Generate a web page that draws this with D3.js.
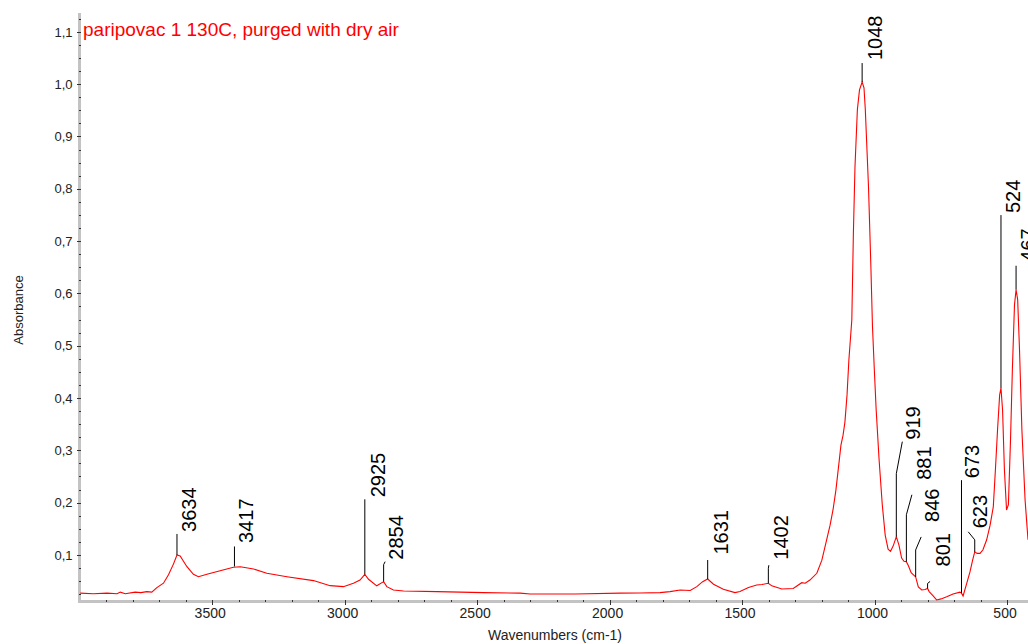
<!DOCTYPE html>
<html>
<head>
<meta charset="utf-8">
<script src="https://cdn.jsdelivr.net/npm/d3@7"></script>
<style>
  body { margin: 0; background: #fff; }
  svg { display: block; font-family: "Liberation Sans", Arial, sans-serif; }
</style>
</head>
<body>
<svg id="mainsvg" width="1028" height="644"></svg>
<script>
// spectrum (wavenumber cm-1 / absorbance)
const wavenumbers = [3999,3950,3898,3860,3848,3829,3792,3770,3748,3729,3710,3685,3666,3647,3634,3622,3597,3572,3553,3521,
  3471,3421,3395,3345,3295,3219,3119,3056,3006,2968,2943,2925,2911,2880,2854,2842,2817,2779,2653,2477,
  2339,2301,2131,1962,1887,1811,1773,1735,1697,1672,1650,1631,1609,1572,1528,1509,1477,1446,1426,1402,
  1389,1351,1308,1276,1263,1245,1219,1200,1182,1169,1158,1147,1135,1128,1120,1113,1105,1098,1087,1081,
  1075,1066,1058,1048,1041,1036,1024,1015,1009,1002,995,984,972,961,950,941,931,919,909,899,
  890,881,873,863,846,836,823,811,801,795,780,767,750,729,705,679,673,667,653,641,
  631,623,614,603,592,578,565,553,545,537,529,524,518,511,503,496,488,481,473,467,
  461,454,445,433,422]
const absorbance = [0.027,0.026,0.027,0.026,0.029,0.026,0.029,0.028,0.030,0.029,0.0375,0.046,0.062,0.083,0.100,0.098,0.078,0.063,0.0585,0.063,
  0.070,0.0765,0.0776,0.0732,0.065,0.0585,0.051,0.0413,0.0394,0.046,0.052,0.063,0.0535,0.041,0.049,0.0394,0.033,0.031,0.030,0.028,
  0.027,0.0254,0.0255,0.027,0.0273,0.028,0.030,0.033,0.032,0.0394,0.049,0.054,0.044,0.0344,0.028,0.030,0.038,0.0426,0.0436,0.046,
  0.041,0.035,0.036,0.047,0.046,0.052,0.065,0.090,0.129,0.157,0.186,0.224,0.278,0.310,0.329,0.354,0.406,0.473,0.549,0.716,
  0.842,0.951,0.989,1.004,0.993,0.951,0.804,0.651,0.537,0.454,0.377,0.282,0.196,0.138,0.111,0.107,0.117,0.135,0.119,0.094,
  0.088,0.087,0.079,0.066,0.058,0.039,0.033,0.034,0.036,0.030,0.0216,0.014,0.016,0.020,0.0254,0.029,0.027,0.0216,0.046,0.0675,
  0.090,0.106,0.103,0.103,0.110,0.129,0.157,0.192,0.263,0.339,0.406,0.419,0.377,0.263,0.186,0.196,0.320,0.454,0.578,0.607,
  0.588,0.492,0.339,0.205,0.129]

// labelled peaks
const peakWn = [3634,3417,2925,2854,1631,1402,1048,919,881,846,801,673,623,524,467]
const peakAbs = [0.100,0.078,0.063,0.049,0.054,0.046,1.004,0.135,0.087,0.058,0.036,0.027,0.106,0.419,0.607]

const xTicks = [3500,3000,2500,2000,1500,1000,500]
const yTicks = [0.1,0.2,0.3,0.4,0.5,0.6,0.7,0.8,0.9,1.0,1.1]

const title = 'paripovac 1 130C, purged with dry air'
const xTitle = 'Wavenumbers (cm-1)'
const yTitle = 'Absorbance'

// leader line / label placement for each peak, pixels relative to the peak point
// rise: vertical part, kx,ky: end of the slanted part, tx,ty: label anchor
const labelLayout = [
  {rise:-21,kx:0,ky:-21,tx:19,ty:-23},
  {rise:-20,kx:0,ky:-20,tx:18.5,ty:-23.5},
  {rise:-75,kx:0,ky:-75,tx:20.5,ty:-77},
  {rise:-17,kx:1.5,ky:-20,tx:19,ty:-22},
  {rise:-19,kx:0,ky:-19,tx:20.5,ty:-24.5},
  {rise:-15,kx:0.5,ky:-18,tx:19.5,ty:-23.5},
  {rise:-19,kx:0,ky:-19,tx:20,ty:-22},
  {rise:-63,kx:6,ky:-95,tx:24,ty:-97},
  {rise:-47,kx:5.5,ky:-67,tx:24.5,ty:-82},
  {rise:-27,kx:5.5,ky:-40,tx:23.5,ty:-55},
  {rise:-5,kx:2.5,ky:-7,tx:22,ty:-22},
  {rise:-113,kx:0,ky:-113,tx:18,ty:-115},
  {rise:-12,kx:-6.5,ky:-20,tx:12,ty:-23.5},
  {rise:-173,kx:0,ky:-173,tx:19,ty:-175},
  {rise:-24,kx:0,ky:-24,tx:19,ty:-28}
]

const plot = {left:80, right:1028, top:13, bottom:601}

const x = d3.scaleLinear().domain([4000, 422]).range([plot.left, plot.right])
const y = d3.scaleLinear().domain([0.012, 1.136]).range([plot.bottom, plot.top])

const svg = d3.select('#mainsvg')
const fmt = d => d.toFixed(1).replace('.', ',')

// gray axis bars
svg.append('line')
  .attr('x1',79.5).attr('y1',plot.top).attr('x2',79.5).attr('y2',603)
  .attr('stroke','#c3c3c3').attr('stroke-width',3)
svg.append('line')
  .attr('x1',78).attr('y1',601.5).attr('x2',plot.right).attr('y2',601.5)
  .attr('stroke','#c3c3c3').attr('stroke-width',3)

// y axis
const minorY = d3.range(0.025, 1.13, 0.025).filter(v => Math.abs(v * 10 - Math.round(v * 10)) > 0.01)
const yAxis = svg.append('g').attr('transform','translate(81,0)')
  .call(d3.axisLeft(y).tickValues(yTicks).tickSize(4.5).tickPadding(4).tickFormat(fmt))
yAxis.select('.domain').remove()
svg.append('g').attr('transform','translate(81,0)')
  .call(d3.axisLeft(y).tickValues(minorY).tickSize(2).tickFormat(''))
  .select('.domain').remove()

// x axis
const minorX = d3.range(600, 4000, 100).filter(v => v % 500 !== 0)
const xAxis = svg.append('g').attr('transform','translate(0,600)')
  .call(d3.axisBottom(x).tickValues(xTicks).tickSize(5).tickPadding(3).tickFormat(d => d))
xAxis.select('.domain').remove()
svg.append('g').attr('transform','translate(0,600)')
  .call(d3.axisBottom(x).tickValues(minorX).tickSize(2).tickFormat(''))
  .select('.domain').remove()

svg.selectAll('.tick line').attr('stroke','#333').attr('shape-rendering','crispEdges')
yAxis.selectAll('text').attr('font-size',13).attr('fill','#222').attr('font-family','"Liberation Sans", Arial, sans-serif')
xAxis.selectAll('text').attr('font-size',14).attr('fill','#222').attr('dx','-0.2em').attr('font-family','"Liberation Sans", Arial, sans-serif')

// axis titles
svg.append('text')
  .attr('transform','translate(23,310) rotate(-90)')
  .attr('text-anchor','middle')
  .attr('font-size',13).attr('fill','#222')
  .text(yTitle)
svg.append('text')
  .attr('x',555).attr('y',640)
  .attr('text-anchor','middle')
  .attr('font-size',14).attr('fill','#222')
  .text(xTitle)

// spectrum
const pts = wavenumbers.map((w, i) => [w, absorbance[i]])
svg.append('path')
  .datum(pts)
  .attr('d', d3.line().x(d => x(d[0])).y(d => y(d[1])))
  .attr('fill','none')
  .attr('stroke','#ff0000')
  .attr('stroke-width',1.1)

// peak labels
const peaks = peakWn.map((w, i) => ({w, a: peakAbs[i], l: labelLayout[i]}))
const pg = svg.append('g')
peaks.forEach(p => {
  let px = x(p.w), py = y(p.a), l = p.l
  pg.append('path')
    .attr('d', `M${px},${py} L${px},${py + l.rise} L${px + l.kx},${py + l.ky}`)
    .attr('fill','none')
    .attr('stroke','#000')
    .attr('stroke-width',1)
  pg.append('text')
    .attr('transform', `translate(${px + l.tx},${py + l.ty}) rotate(-90)`)
    .attr('font-size',20)
    .attr('fill','#000')
    .text(p.w)
})

// title
svg.append('text')
  .attr('x',83).attr('y',36)
  .attr('font-size',19)
  .attr('fill','#ff0000')
  .text(title)
</script>
</body>
</html>
